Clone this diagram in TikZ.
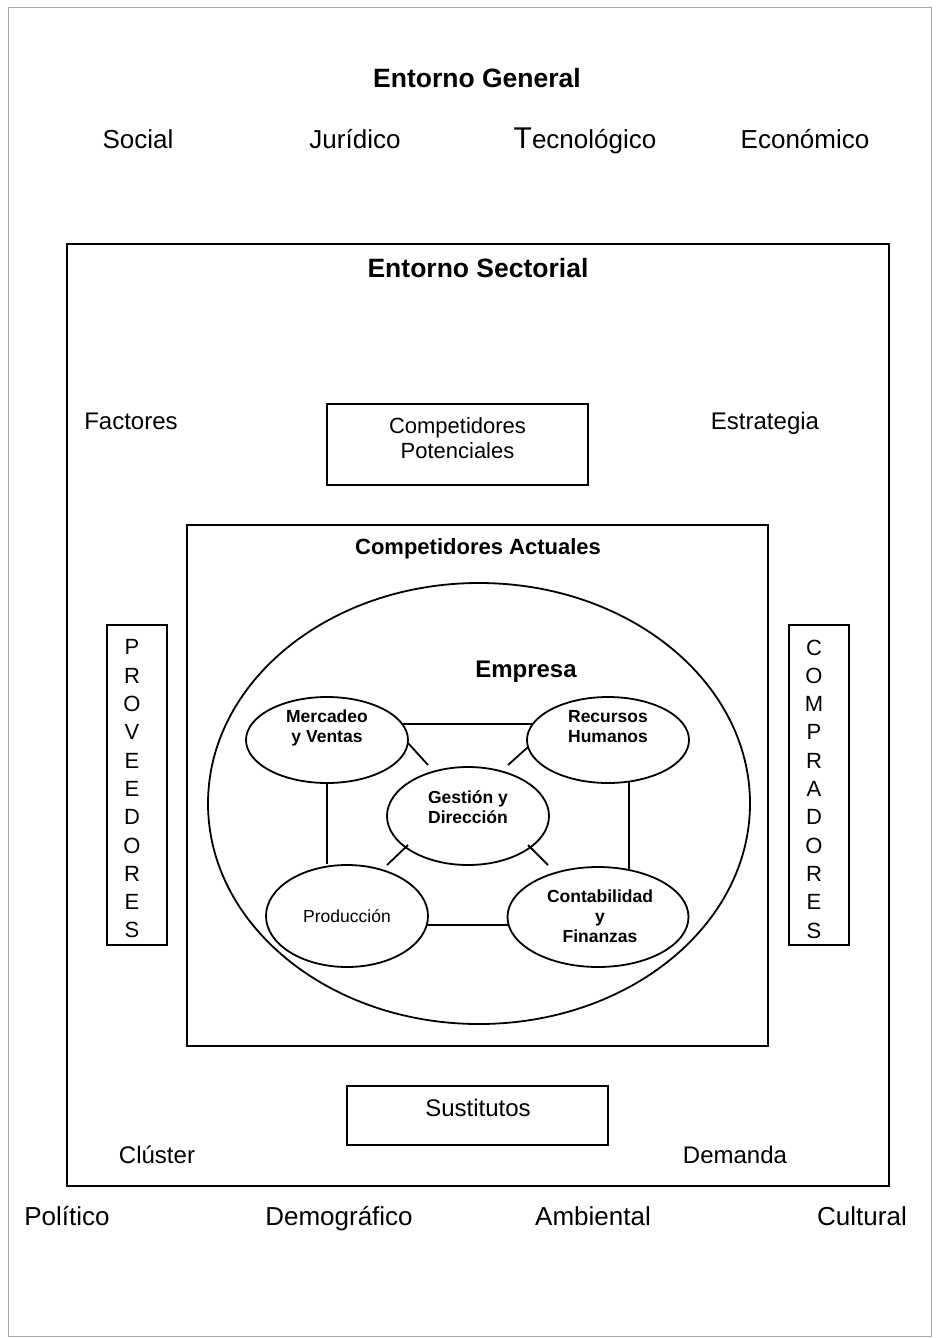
\documentclass[tikz,border=0pt]{standalone}
\usepackage{fontspec}
\setmainfont{Liberation Sans}
\usetikzlibrary{shapes.geometric,calc}
\begin{document}
\begin{tikzpicture}[x=1pt,y=-1pt,
  lbl/.style={inner sep=0pt, anchor=base},
  mtext/.style={inner sep=0pt, align=center},
  fbig/.style={font=\fontsize{26}{30}\selectfont},
  fbigb/.style={font=\bfseries\fontsize{26.5}{30}\selectfont},
  fmid/.style={font=\fontsize{24}{28}\selectfont},
  box/.style={draw, line width=1.8pt, inner sep=0pt},
  oval/.style={draw, ellipse, line width=1.8pt, inner sep=0pt},
  link/.style={line width=1.8pt},
  etxt/.style={inner sep=0pt, align=center, font=\bfseries\fontsize{17.5}{20}\selectfont},
  vtxt/.style={inner sep=0pt, align=center, font=\fontsize{22}{28.3}\selectfont}
]
\useasboundingbox (0,0) rectangle (940,1338);
\draw[gray!70, line width=1pt] (8,8) rectangle (931,1336);

% Entorno general
\node[lbl, fbigb] (eg) at (477,87.5) {Entorno General};
\node[lbl, fbig] (soc) at (138,148) {Social};
\node[lbl, fbig] (jur) at (355,148) {Jurídico};
\node[lbl, fbig] (tec) at (585,148) {{\fontsize{30}{30}\selectfont T}ecnológico};
\node[lbl, fbig] (eco) at (805,148) {Económico};
\node[lbl, fbig] (pol) at (67,1225) {Político};
\node[lbl, fbig] (dem) at (339,1225) {Demográfico};
\node[lbl, fbig] (amb) at (593,1225) {Ambiental};
\node[lbl, fbig] (cul) at (862,1225) {Cultural};

% Entorno sectorial
\node[box, line width=2.2pt, minimum width=822pt, minimum height=942pt] (sect) at (478,715) {};
\node[lbl, fbigb] (sect-t) at (478,277.5) {Entorno Sectorial};
\node[lbl, fmid] (fac) at (131,429) {Factores};
\node[lbl, fmid] (est) at (765,429) {Estrategia};
\node[lbl, fmid] (clu) at (157,1163.5) {Clúster};
\node[lbl, fmid] (dmd) at (735,1163.5) {Demanda};

\node[box, minimum width=261pt, minimum height=81pt] (cp) at (457.5,444.5) {};
\node[mtext, font=\fontsize{22}{25}\selectfont] (cp-t) at (457.5,438.5) {Competidores\\Potenciales};

\node[box, minimum width=261pt, minimum height=59pt] (sus) at (477.5,1115.5) {};
\node[lbl, fmid] (sus-t) at (478,1116.5) {Sustitutos};

\node[box, minimum width=60pt, minimum height=320pt] (prov) at (137,785) {};
\node[vtxt] (prov-t) at (132,789) {P\\R\\O\\V\\E\\E\\D\\O\\R\\E\\S};
\node[box, minimum width=60pt, minimum height=320pt] (comp) at (819,785) {};
\node[vtxt] (comp-t) at (814,789) {C\\O\\M\\P\\R\\A\\D\\O\\R\\E\\S};

% Competidores actuales
\node[box, minimum width=581pt, minimum height=521pt] (ca) at (477.5,785.5) {};
\node[lbl, font=\bfseries\fontsize{22}{26}\selectfont] (ca-t) at (478,554) {Competidores Actuales};

% Empresa
\node[oval, minimum width=542pt, minimum height=441pt] (emp) at (479,803.5) {};
\node[lbl, font=\bfseries\fontsize{24}{28}\selectfont] (emp-t) at (526,677.5) {Empresa};

\node[oval, minimum width=162pt, minimum height=86pt] (merc) at (327,740) {};
\node[etxt] (merc-t) at (327,727.5) {Mercadeo\\y Ventas};
\node[oval, minimum width=162pt, minimum height=86pt] (rh) at (608,740) {};
\node[etxt] (rh-t) at (608,726.5) {Recursos\\Humanos};
\node[oval, minimum width=162pt, minimum height=98pt] (gest) at (468,816) {};
\node[etxt] (gest-t) at (468,807) {Gestión y\\Dirección};
\node[oval, minimum width=162pt, minimum height=102pt] (prod) at (347,916) {};
\node[lbl, font=\fontsize{17.5}{20}\selectfont] (prod-t) at (347,922) {Producción};
\node[oval, minimum width=181pt, minimum height=100pt] (cont) at (598,917) {};
\node[etxt] (cont-t) at (600,916.2) {Contabilidad\\y\\Finanzas};

% connectors
\draw[link] ($(merc.center)+(76,-16)$) -- ($(rh.center)+(-76,-16)$);
\draw[link] (merc.south) -- (merc.south |- prod.north);
\draw[link] ($(rh.center)+(21,42)$) -- ($(cont.center)+(31,-48)$);
\draw[link] ($(prod.center)+(80,9)$) -- ($(cont.center)+(-89,8)$);
\draw[link] ($(merc.center)+(81,3)$) -- ($(gest.center)+(-40,-51)$);
\draw[link] ($(rh.center)+(-80,7)$) -- ($(gest.center)+(40,-51)$);
\draw[link] ($(prod.center)+(40,-51)$) -- ($(gest.center)+(-60,29)$);
\draw[link] ($(cont.center)+(-50,-52)$) -- ($(gest.center)+(60,29)$);
\end{tikzpicture}
\end{document}
